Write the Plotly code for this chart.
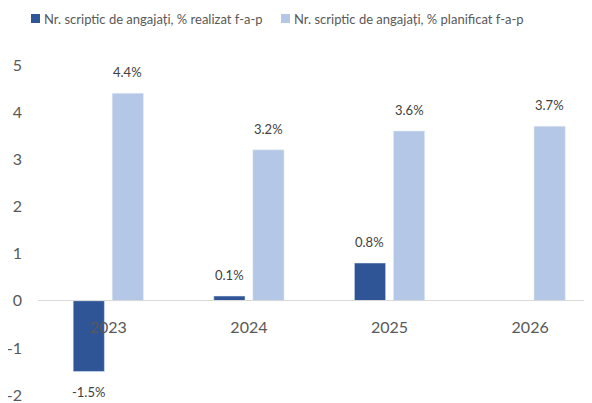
import plotly.graph_objs as go

years = ['2023', '2024', '2025', '2026']
realizat = [-1.5, 0.1, 0.8, None]
planificat = [4.4, 3.2, 3.6, 3.7]
name_real = 'Nr. scriptic de angajați, % realizat f-a-p'
name_plan = 'Nr. scriptic de angajați, % planificat f-a-p'
y_ticks = [-2, -1, 0, 1, 2, 3, 4, 5]
y_ticktext = ['-2', '-1', '0', '1', '2', '3', '4', '5']

dark = '#2F5597'
light = '#B4C7E7'
font = 'Lato, Open Sans, sans-serif'

# the page body adds an 8px margin, so the figure is 8px smaller than the window
OFF = 8
W, H = 592 - OFF, 403 - OFF
L, T, B = 38 - OFF, 65 - OFF, 7
pw, ph = W - L, H - T - B


def px_x(p):
    return (p - OFF - L) / pw


def px_y(p):
    return (H - B - (p - OFF)) / ph


fig = go.Figure()
fig.add_trace(go.Bar(x=years, y=realizat, name=name_real, marker_color=dark))
fig.add_trace(go.Bar(x=years, y=planificat, name=name_plan, marker_color=light))

# data labels, pushed away from the bar ends like in the original
offset = 0.139
for i, v in enumerate(realizat):
    if v is None:
        continue
    fig.add_annotation(x=i - offset, y=v, text=f'{v:.1f}%', showarrow=False,
                       yshift=21 if v >= 0 else -21,
                       font=dict(family=font, size=13, color='#404040'))
for i, v in enumerate(planificat):
    fig.add_annotation(x=i + offset, y=v, text=f'{v:.1f}%', showarrow=False,
                       yshift=21, font=dict(family=font, size=13, color='#404040'))

# legend drawn by hand (square + text) to match the compact excel legend
for (sx, name, col) in [(31, name_real, dark), (281, name_plan, light)]:
    fig.add_shape(type='rect', xref='paper', yref='paper',
                  x0=px_x(sx), x1=px_x(sx + 9), y0=px_y(23), y1=px_y(14),
                  fillcolor=col, line_width=0)
    fig.add_annotation(xref='paper', yref='paper', x=px_x(sx + 11), y=px_y(18.5),
                       xanchor='left', yanchor='middle', text=name, showarrow=False,
                       font=dict(family=font, size=13, color='#595959'))

fig.update_layout(
    width=W, height=H,
    margin=dict(l=L, r=0, t=T, b=B, autoexpand=False),
    plot_bgcolor='white', paper_bgcolor='white',
    barmode='group', bargap=0.445, bargroupgap=0.2,
    showlegend=False,
    font=dict(family=font, color='#595959'),
)
fig.update_yaxes(range=[-2.02, 5], tickvals=y_ticks, ticktext=y_ticktext,
                 showgrid=False, zeroline=False, automargin=False,
                 ticklabeloverflow='allow',
                 tickfont=dict(size=16, color='#595959'), ticklabelstandoff=15)
fig.update_xaxes(type='category', range=[-0.5, 3.44], anchor='free', position=0.289,
                 showline=True, linecolor='#D9D9D9', linewidth=1, automargin=False,
                 showgrid=False, tickfont=dict(size=16, color='#595959'),
                 ticks='', ticklabelstandoff=12)

fig.write_html('out.html')
